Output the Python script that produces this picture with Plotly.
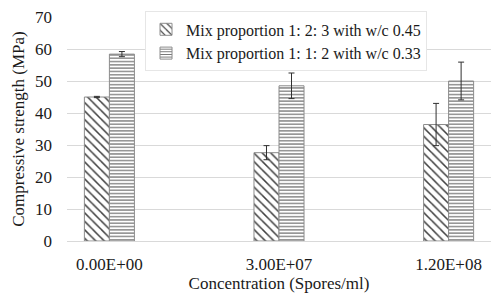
import plotly.graph_objects as go

categories = ["0.00E+00", "3.00E+07", "1.20E+08"]
series1_name = "Mix proportion 1: 2: 3 with w/c 0.45"
series2_name = "Mix proportion 1: 1: 2 with w/c 0.33"
series1_values = [45.0, 27.6, 36.4]
series1_errors = [0.2, 2.2, 6.6]
series2_values = [58.4, 48.5, 50.0]
series2_errors = [0.8, 4.0, 5.9]
y_ticks = [0, 10, 20, 30, 40, 50, 60, 70]

FONT = "Liberation Serif"
x_pos = list(range(len(categories)))

fig = go.Figure()
fig.add_trace(go.Bar(
    x=x_pos, y=series1_values, name=series1_name,
    marker=dict(color="white", line=dict(color="#8c8c8c", width=1),
                pattern=dict(shape="\\", size=6, solidity=0.25, fgcolor="#404040", bgcolor="white")),
    error_y=dict(type="data", array=series1_errors, color="#303030", thickness=1, width=3),
))
fig.add_trace(go.Bar(
    x=x_pos, y=series2_values, name=series2_name,
    marker=dict(color="white", line=dict(color="#8c8c8c", width=1),
                pattern=dict(shape="-", size=3.3, solidity=0.35, fgcolor="#6a6a6a", bgcolor="white")),
    error_y=dict(type="data", array=series2_errors, color="#303030", thickness=1, width=3),
))

fig.update_layout(
    template="none",
    width=498, height=298,
    margin=dict(l=67, r=7, t=17, b=57, autoexpand=False),
    paper_bgcolor="white", plot_bgcolor="white",
    barmode="group", bargap=0.705, bargroupgap=0,
    font=dict(family=FONT, size=17, color="#1a1a1a"),
    showlegend=True,
    legend=dict(x=0.184, y=1.025, xanchor="left", yanchor="top",
                bgcolor="white", bordercolor="#e6e6e6", borderwidth=1,
                font=dict(family=FONT, size=16, color="#1a1a1a"),
                tracegroupgap=0, itemwidth=30),
)
fig.update_xaxes(
    tickmode="array", tickvals=x_pos, ticktext=categories,
    range=[-0.25, 2.25], showgrid=False, zeroline=False,
    showline=True, linecolor="#d9d9d9", linewidth=1,
    ticks="", ticklabelstandoff=8, automargin=False,
    tickfont=dict(family=FONT, size=17),
    title=dict(text="Concentration (Spores/ml)", standoff=2, font=dict(family=FONT, size=17)),
)
fig.update_yaxes(
    range=[0, 70], tickmode="array", tickvals=y_ticks,
    showgrid=True, gridcolor="#d9d9d9", gridwidth=1, zeroline=False,
    showline=False, ticks="", ticklabelstandoff=14, automargin=False,
    tickfont=dict(family=FONT, size=17),
    title=dict(text="Compressive strength (MPa)", standoff=6, font=dict(family=FONT, size=17)),
)

fig.write_html("out.html", config={"displayModeBar": False},
               post_script="document.body.style.margin='0';")
